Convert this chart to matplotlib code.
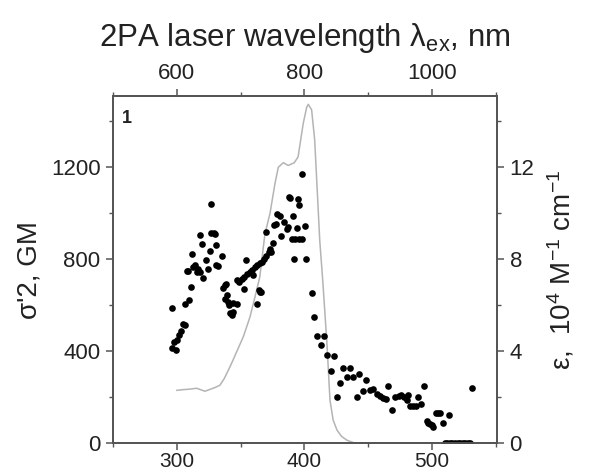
import matplotlib
matplotlib.use("Agg")
import matplotlib.pyplot as plt
from matplotlib.ticker import MultipleLocator

plt.rcParams['font.family'] = ['Liberation Sans', 'DejaVu Sans']
plt.rcParams['mathtext.fontset'] = 'custom'
plt.rcParams['mathtext.rm'] = 'Liberation Sans'
plt.rcParams['mathtext.it'] = 'Liberation Sans:italic'
plt.rcParams['mathtext.bf'] = 'Liberation Sans:bold'

# one-photon absorption (right axis, 10^4 M-1 cm-1)
abs_wl = [300, 305, 310, 315.4, 322, 329.8, 333.7, 337, 340.3, 343.5, 346.8, 352, 357.3,
          361.2, 365, 369, 373, 376.9, 379.5, 383.4, 387.3, 392, 395, 399, 401.7, 403,
          405.6, 408, 410, 412, 414.3, 417.6, 420, 422.5, 425.5, 429, 433.3, 439.6, 450]
abs_eps = [2.30, 2.33, 2.35, 2.39, 2.26, 2.42, 2.52, 2.8, 3.17, 3.55, 3.97, 4.62, 5.49,
           6.36, 7.23, 9.1, 10.0, 11.3, 12.0, 12.2, 12.08, 12.2, 12.45, 13.9, 14.6, 14.74,
           14.5, 13.2, 11.0, 8.8, 7.1, 4.35, 1.87, 1.0, 0.57, 0.3, 0.13, 0.0, 0.0]

# 2PA cross section (left axis, GM) vs half of laser wavelength
tpa_wl = [296, 299, 297.5, 300, 302, 303, 305, 306, 296, 306, 309.5, 311, 307.6, 308.9,
          312.8, 314, 315.4, 316.7, 318, 320.5, 311.5, 318, 320, 322.5, 324, 326, 327,
          329, 330, 327, 331, 331, 335, 332.5,
          337.6, 336.3, 338.4, 339, 338, 340, 340.5, 344, 346.8, 344, 343, 342, 346.8,
          349, 351, 353, 353, 355, 357, 359, 359.8, 361, 363, 365, 367, 353.9, 365.5,
          362.5, 364.5,
          366, 368, 370, 372, 373, 375, 374, 370, 376.5, 377.5, 378.5, 381, 382, 384,
          386, 387, 388, 389, 390, 391, 392, 392.5, 394.5, 394.7, 396, 396, 398, 398.3,
          400.4, 401, 405.6, 407.7,
          410, 412.7, 415.5, 418, 420.5, 423, 425.7, 427.8, 430.4, 433, 435.7, 438.3,
          441, 443, 445.6, 448, 451, 453.5, 456.6, 459, 461.5, 464, 465.7, 468.4, 471,
          474, 476, 478, 480, 481, 483, 485, 487.5, 488.8, 491, 493.7, 495.8, 497,
          498.5, 500, 501, 503, 505, 506.5, 508.4, 513.6, 531,
          510, 512, 514, 516, 518, 520, 522, 524, 526, 528, 530]
tpa_gm = [416, 407, 440, 448, 470, 490, 520, 512, 586, 607, 622, 680, 749, 749,
          767, 774, 745, 759, 745, 720, 822, 904, 865, 796, 759, 836, 913,
          916, 908, 1042, 861, 774, 813, 770,
          687, 677, 691, 643, 625, 613, 600, 609, 607, 571, 556, 565, 709,
          700, 715, 725, 672, 735, 745, 755, 730, 765, 775, 785, 790, 796, 658,
          607, 665,
          656, 800, 815, 830, 846, 871, 832, 919, 948, 952, 999, 987, 900, 962,
          933, 940, 1071, 1065, 886, 987, 799, 886, 936, 1060, 1035, 886, 886, 1172,
          943, 799, 654, 549,
          465, 426, 465, 383, 313, 380, 199, 262, 325, 286, 329, 288,
          199, 300, 227, 277, 232, 235, 213, 205, 195, 191, 249, 143, 200,
          205, 210, 200, 190, 208, 160, 160, 162, 199, 170, 249, 96, 90,
          84, 78, 70, 132, 132, 132, 90, 122, 240,
          2, 2, 2, 2, 2, 2, 2, 2, 2, 2, 2]

bottom_ticks = [300, 400, 500]
top_ticks = [600, 800, 1000]
left_ticks = [0, 400, 800, 1200]
right_ticks = [0, 4, 8, 12]

spine_col = '#555555'
text_col = '#222222'

fig = plt.figure(figsize=(5.89, 4.73), dpi=100)
ax = fig.add_axes([0.192, 0.063, 0.652, 0.734])
ax2 = ax.twinx()

ax2.plot(abs_wl, abs_eps, color='#b4b4b4', lw=1.1)
ax.plot(tpa_wl, tpa_gm, 'o', color='black', ms=4.8, mec='none')

ax.set_zorder(ax2.get_zorder() + 1)
ax.patch.set_visible(False)

ax.set_xlim(250, 551)
ax.set_ylim(0, 1510)
ax2.set_ylim(0, 15.1)

ax.set_xticks(bottom_ticks)
ax.xaxis.set_minor_locator(MultipleLocator(50))
ax.set_yticks(left_ticks)
ax.yaxis.set_minor_locator(MultipleLocator(200))
ax2.set_yticks(right_ticks)
ax2.yaxis.set_minor_locator(MultipleLocator(2))

secax = ax.secondary_xaxis('top', functions=(lambda x: 2 * x, lambda x: x / 2))
secax.set_xticks(top_ticks)
secax.xaxis.set_minor_locator(MultipleLocator(100))

for a in (ax, ax2, secax):
    a.tick_params(which='major', direction='out', length=5, width=1.1,
                  color=spine_col, labelsize=16, labelcolor=text_col, pad=4)
    a.tick_params(which='minor', direction='out', length=3, width=1.0, color=spine_col)
    for s in a.spines.values():
        s.set_color(spine_col)
        s.set_linewidth(1.3)
# bottom labels sit close to the figure edge
ax.tick_params(axis='x', which='major', labelsize=15, pad=1.5)

secax.set_xlabel('2PA laser wavelength $\\mathregular{λ_{ex}}$, nm', fontsize=22.5,
                 color=text_col, labelpad=12)
ax.set_ylabel("σ'2, GM", fontsize=20, color=text_col, labelpad=6)
ax2.set_ylabel('ε,  10$^{4}$ M$^{-1}$ cm$^{-1}$', fontsize=20, color=text_col, labelpad=8)

ax.text(0.022, 0.935, '1', transform=ax.transAxes, fontsize=13, fontweight='bold',
        color=text_col, ha='left', va='center')

fig.savefig('out.png', dpi=100)
